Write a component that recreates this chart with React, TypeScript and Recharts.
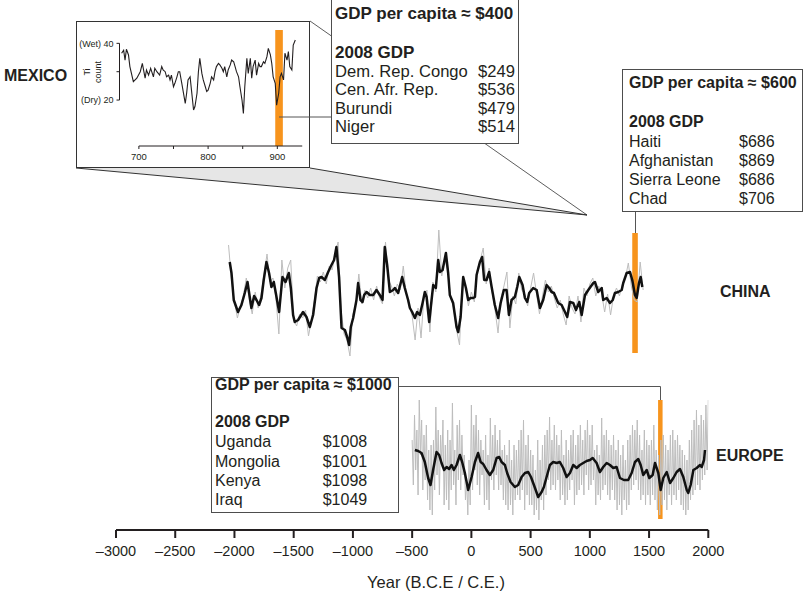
import React from 'react';
import {
  ComposedChart,
  LineChart,
  Line,
  XAxis,
  YAxis,
  ReferenceArea,
  ReferenceLine,
} from 'recharts';

const FONT = '"Liberation Sans", Arial, Helvetica, sans-serif';
const INK = '#231f20';
const ORANGE = '#f7941d';
const RAW_GRAY = '#bdbdbd';

// main time axis (B.C.E. negative)
const YEAR_TICKS = [-3000, -2500, -2000, -1500, -1000, -500, 0, 500, 1000, 1500, 2000];

// Mexico inset: Ti count
const MEXICO_YEARS = [
  675, 678, 680, 682, 685, 687, 692, 697, 702, 705, 709, 711, 714, 717, 721, 723, 726, 730, 733, 735,
  738, 740, 743, 745, 747, 750, 752, 755, 757, 759, 762, 767, 769, 771, 774, 776, 779, 781, 784, 786,
  788, 791, 793, 796, 798, 800, 803, 805, 808, 810, 812, 815, 817, 820, 822, 824, 827, 829, 832, 834,
  837, 839, 841, 844, 846, 849, 851, 853, 856, 858, 861, 863, 865, 868, 870, 873, 875, 877, 880, 882,
  885, 887, 890, 892, 894, 897, 899, 902, 904, 906, 909, 911, 914, 916, 918, 921, 923, 926,
];
const MEXICO_TI = [
  36.5, 37.6, 34.1, 37.9, 35.9, 31.8, 26.5, 27.7, 30, 32.9, 27.7, 30.6, 28.8, 31.2, 28.2, 31.2, 30, 28.8, 31.8, 30.6,
  30, 28.2, 28.8, 27.1, 28.8, 24.7, 25.9, 28.2, 30, 30, 25.9, 18.8, 22.4, 27.1, 28.2, 23.5, 16.5, 17.7, 22.4, 30,
  34.7, 29.4, 27.1, 24.7, 23, 23.5, 25.9, 28.2, 27.1, 30, 31.8, 32.9, 32.4, 31.2, 30, 31.8, 28.2, 30.6, 32.4, 34.1,
  33.5, 31.8, 30, 28.2, 24.7, 20, 15.3, 24.7, 34.7, 29.4, 34.7, 27.7, 31.8, 34.1, 28.8, 32.9, 31.8, 31.8, 33.5, 32.9,
  35.3, 38.2, 35.9, 32.9, 28.2, 25.9, 18.2, 22.4, 28.2, 29.4, 27.1, 36.5, 34.1, 37.1, 31.8, 30.6, 39.4, 41.2,
];
const MEXICO_TICKS = [700, 750, 800, 850, 900];
const MEXICO_LABELED = [700, 800, 900];
const TI_TICKS = [20, 30, 40];
const TI_TICK_LABELS = ['(Dry) 20', '', '(Wet) 40'];

// China: smoothed record (index units)
const CHINA_SMOOTH_YEARS = [
  -2040, -2025, -2006, -1970, -1941, -1913, -1890, -1871, -1857, -1834,
  -1814, -1792, -1772, -1753, -1730, -1708, -1688, -1668, -1651, -1623,
  -1595, -1569, -1541, -1524, -1505, -1491, -1463, -1421, -1392, -1364,
  -1336, -1307, -1285, -1265, -1237, -1209, -1181, -1159, -1139, -1117,
  -1096, -1068, -1049, -1032, -1018, -998, -970, -956, -936, -919,
  -905, -885, -857, -829, -801, -773, -750, -731, -711, -688,
  -660, -646, -618, -584, -562, -534, -519, -500, -477, -458,
  -435, -412, -393, -378, -356, -336, -322, -300, -280, -266,
  -243, -215, -196, -182, -154, -125, -111, -91, -69, -46,
  -27, -7, 15, 30, 44, 72, 91, 108, 128, 150,
  171, 198, 226, 247, 274, 297, 317, 339, 367, 387,
  404, 432, 452, 471, 488, 522, 551, 579, 606, 635,
  657, 677, 697, 733, 762, 790, 809, 832, 860, 883,
  911, 931, 959, 987, 1029, 1043, 1071, 1100, 1113, 1142,
  1170, 1193, 1212, 1240, 1269, 1282, 1311, 1339, 1358, 1381,
  1395, 1415, 1429, 1443,
];
const CHINA_SMOOTH = [
  38, 27, 0, -12, -5, 7, 18, 3, -8, 4,
  0, -5, 2, 20, 38, 27, 13, 18, 7, -12,
  23, 18, 27, 12, -15, -22, -20, -12, -17, -27,
  -15, 12, 22, 23, 20, 28, 35, 40, 53, 23,
  -28, -30, -37, -45, -27, -18, 0, 17, 0, -2,
  5, 8, 5, 5, 10, 5, 0, 53, 35, 8,
  10, 12, 7, 23, 12, 0, -8, -12, -18, -12,
  -15, -3, 8, 3, -22, 0, 15, 12, 40, 28,
  30, 47, 27, 5, -3, -27, -32, -17, 23, 12,
  0, 2, 2, 3, 25, 38, 43, 20, 20, 28,
  13, -5, -18, -3, 10, 10, -15, 0, 3, 13,
  23, 15, 2, -2, 7, 12, 10, -8, 0, 15,
  12, 8, 7, -3, -5, -12, -17, -2, -3, -10,
  -2, -15, 5, 10, 17, 18, 8, 12, 0, 2,
  -3, 0, 7, 8, 10, 17, 27, 28, 20, 5,
  2, 17, 23, 13,
];

// China: raw record, every 25 years from 2050 B.C.E.
const CHINA_RAW_START = -2050;
const CHINA_RAW_STEP = 25;
const CHINA_RAW = [
  55, 20, -2, -18, -6, 4, 22, 0, -14, 8, -8, 6,
  26, 46, 18, 22, 2, -34, 40, 12, 32, 40, -20, -26,
  -14, -18, -10, -36, -20, 0, 24, 18, 28, 16, 34, 30,
  46, 58, -10, -34, -40, -56, -14, -4, 26, -4, 10, 2,
  12, 0, 14, 2, -4, 58, 20, 14, 4, 16, 10, 34,
  6, -6, -16, -40, -8, -38, 4, 10, -32, 18, 8, 70,
  24, 40, 30, 2, -8, -30, -45, 22, 14, -6, 8, -2,
  30, 40, 52, 16, 32, 8, -10, -33, 2, 14, 28, -28,
  4, -4, 27, 10, 6, -6, 12, 27, 6, -14, 4, 20,
  8, 14, 2, -8, 0, -14, -25, 4, -8, -14, 4, -22,
  12, 4, 16, 22, 4, 14, 6, -12, 6, -15, 4, 12,
  4, 16, 22, 37, 14, 0, -2, 38, 10,
];

// Europe: smoothed record (index units)
const EUROPE_SMOOTH_YEARS = [
  -477, -449, -421, -393, -365, -345, -323, -294, -272, -252,
  -230, -209, -188, -167, -148, -125, -97, -78, -55, -27,
  2, 30, 57, 78, 100, 128, 156, 184, 213, 235,
  255, 283, 302, 331, 367, 395, 424, 452, 480, 503,
  528, 564, 593, 612, 635, 663, 691, 720, 747, 775,
  804, 832, 860, 889, 916, 944, 973, 1001, 1024, 1057,
  1085, 1113, 1142, 1170, 1198, 1226, 1254, 1288, 1324, 1353,
  1381, 1409, 1429, 1451, 1480, 1502, 1530, 1550, 1578, 1598,
  1620, 1649, 1677, 1705, 1733, 1761, 1789, 1818, 1831, 1851,
  1874, 1902, 1930, 1944, 1964, 1972,
];
const EUROPE_SMOOTH = [
  10, 9, 7, -2, -18, -25, -10, 8, 5, -3,
  -10, -7, -9, -5, -10, -5, 5, -2, -13, -30,
  -17, -2, 7, -2, -4, -10, -15, -10, 2, 3,
  -2, -5, -13, -22, -27, -25, -17, -13, -12, -17,
  -25, -37, -32, -27, -17, -5, -2, -3, -2, -8,
  -17, -13, -5, -8, -5, -3, -1, 0, 2, -3,
  -12, -7, -3, -5, -8, -7, -18, -20, -20, -13,
  -2, 1, -5, -15, -10, -18, -15, -3, -13, -30,
  -18, -12, -23, -18, -12, -9, -17, -30, -33, -25,
  -10, -8, -5, -7, 0, 10,
];

// Europe: raw record, every 10 years from 500 B.C.E.
const EUROPE_RAW_START = -500;
const EUROPE_RAW_STEP = 10;
const EUROPE_RAW = [
  20, -25, 45, -10, 30, -35, 60, 5, 40, -30,
  25, -20, 35, -40, 10, -50, 15, -55, 20, -30,
  53, -15, 30, -35, 25, -5, 40, -45, 15, -40,
  30, -50, 20, -30, 57, -25, 10, -45, 35, -20,
  40, -30, 25, -15, 5, -40, -20, -55, 0, -45,
  55, -30, 35, -10, 45, -25, 30, -35, 20, -15,
  10, -45, 25, -40, 5, -50, 42, -20, 25, -30,
  35, -15, 20, -30, 30, -25, 10, -40, 15, -45,
  5, -50, 20, -45, 0, -55, 15, -40, 10, -35,
  20, -40, 30, -30, 40, -50, 15, -35, 25, -45,
  10, -45, 5, -55, -10, -50, 20, -60, 0, -40,
  15, -50, 25, -35, 30, -20, 43, -30, 20, -25,
  35, -30, 25, -20, 15, -40, 30, -35, 5, -45,
  20, -40, 10, -30, 25, -20, 30, -45, 15, -35,
  25, -30, 35, -25, 20, -35, 30, -15, 40, -30,
  25, -25, 35, -20, 10, -45, 15, -35, 5, -40,
  42, -30, 25, -25, 30, -35, 20, -40, 15, -30,
  25, -40, 10, -50, 20, -45, 5, -55, 15, -40,
  0, -50, 20, -45, 25, -30, 35, -25, 30, -20,
  40, -30, 25, -40, 10, -35, 30, -45, 20, -35,
  15, -45, 20, -35, 35, -40, 10, -50, 5, -55,
  20, -45, 25, -40, 15, -50, 10, -35, 25, -45,
  30, -35, 20, -40, 25, -30, 15, -45, 10, -50,
  5, -55, 0, -50, 20, -40, 30, -35, 40, -30,
  50, -25, 35, -30, 45, -20, 40, -15, 55, -10,
  60,
];

// highlighted periods
const MEXICO_EVENT = [897, 908];
const CHINA_EVENT = [1358, 1405];
const EUROPE_EVENT = [1576, 1614];

// GDP boxes
const BOX400_TITLE = 'GDP per capita ≈ $400';
const BOX400_COUNTRIES = ['Dem. Rep. Congo', 'Cen. Afr. Rep.', 'Burundi', 'Niger'];
const BOX400_GDP = [249, 536, 479, 514];
const BOX600_TITLE = 'GDP per capita ≈ $600';
const BOX600_COUNTRIES = ['Haiti', 'Afghanistan', 'Sierra Leone', 'Chad'];
const BOX600_GDP = [686, 869, 686, 706];
const BOX1000_TITLE = 'GDP per capita ≈ $1000';
const BOX1000_COUNTRIES = ['Uganda', 'Mongolia', 'Kenya', 'Iraq'];
const BOX1000_GDP = [1008, 1001, 1098, 1049];

const mexicoData = MEXICO_YEARS.map((year, i) => ({ year, ti: MEXICO_TI[i] }));
const chinaSmooth = CHINA_SMOOTH_YEARS.map((year, i) => ({ year, v: CHINA_SMOOTH[i] }));
const chinaRaw = CHINA_RAW.map((v, i) => ({ year: CHINA_RAW_START + i * CHINA_RAW_STEP, v }));
const europeSmooth = EUROPE_SMOOTH_YEARS.map((year, i) => ({ year, v: EUROPE_SMOOTH[i] }));
const europeRaw = EUROPE_RAW.map((v, i) => ({ year: EUROPE_RAW_START + i * EUROPE_RAW_STEP, v }));

const fmtYear = (v: number) => (v < 0 ? `\u2013${-v}` : `${v}`);

// both main layers share this geometry so the smoothed lines sit on the same scales
const MAIN_W = 805;
const MAIN_H = 593;
const MAIN_MARGIN = { top: 0, right: 96.7, bottom: 0, left: 116 };
const X_AXIS_H = 63;

type BoxProps = {
  left: number;
  top: number;
  width: number;
  height: number;
  textLeft: number;
  valueAt: number;
  alignRight?: boolean;
  titleY: number;
  headY: number;
  rowY: number;
  rowStep: number;
  titleSize?: number;
  rowSize?: number;
  title: string;
  countries: string[];
  gdp: number[];
};

function GdpBox(p: BoxProps) {
  const lh = 20;
  const topOf = (cy: number) => cy - p.top - 1 - lh / 2;
  const x = p.textLeft - p.left - 1;
  const base: React.CSSProperties = { position: 'absolute', lineHeight: `${lh}px`, whiteSpace: 'nowrap' };
  const rowSize = p.rowSize ?? 16;
  const titleSize = p.titleSize ?? 16;
  return (
    <div
      style={{
        position: 'absolute',
        left: p.left,
        top: p.top,
        width: p.width,
        height: p.height,
        boxSizing: 'border-box',
        border: '1px solid #4d4d4d',
        background: '#fff',
      }}
    >
      <div style={{ ...base, left: x, top: topOf(p.titleY), fontWeight: 700, fontSize: titleSize }}>{p.title}</div>
      <div style={{ ...base, left: x, top: topOf(p.headY), fontWeight: 700, fontSize: titleSize }}>2008 GDP</div>
      {p.countries.map((c, i) => {
        const t = topOf(p.rowY + i * p.rowStep);
        const valStyle: React.CSSProperties = p.alignRight
          ? { ...base, top: t, fontSize: rowSize, right: p.left + p.width - 1 - p.valueAt }
          : { ...base, top: t, fontSize: rowSize, left: p.valueAt - p.left - 1 };
        return (
          <React.Fragment key={c}>
            <div style={{ ...base, left: x, top: t, fontSize: rowSize }}>{c}</div>
            <div style={valStyle}>${p.gdp[i]}</div>
          </React.Fragment>
        );
      })}
    </div>
  );
}

function RegionLabel({ text, left, cy }: { text: string; left: number; cy: number }) {
  return (
    <div
      style={{
        position: 'absolute',
        left,
        top: cy - 10,
        lineHeight: '20px',
        fontSize: 16,
        fontWeight: 700,
        color: INK,
      }}
    >
      {text}
    </div>
  );
}

function TiTick(props: any) {
  const { x, y, payload } = props;
  const label = TI_TICK_LABELS[TI_TICKS.indexOf(payload.value)] ?? '';
  return (
    <text x={x} y={y} dy={3.2} textAnchor="end" fill={INK} fontSize={9} fontFamily={FONT}>
      {label}
    </text>
  );
}

function MexicoInset() {
  return (
    <>
      <div
        style={{
          position: 'absolute',
          left: 76,
          top: 21,
          width: 234,
          height: 147,
          boxSizing: 'border-box',
          border: '1.5px solid #333',
          background: '#fff',
        }}
      />
      <div style={{ position: 'absolute', left: 76, top: 21 }}>
        <LineChart width={234} height={147} data={mexicoData} margin={{ top: 9, right: 5, bottom: 0, left: 0 }}>
          <XAxis
            dataKey="year"
            type="number"
            domain={[672, 940]}
            allowDataOverflow
            ticks={MEXICO_TICKS}
            interval={0}
            height={22}
            axisLine={false}
            tickLine={{ stroke: INK }}
            tickSize={3}
            tickMargin={4}
            tick={{ fill: INK, fontSize: 9.5, fontFamily: FONT }}
            tickFormatter={(v: number) => (MEXICO_LABELED.includes(v) ? String(v) : '')}
          />
          <YAxis
            type="number"
            domain={[3.8, 44.7]}
            allowDataOverflow
            ticks={TI_TICKS}
            interval={0}
            width={43.5}
            axisLine={false}
            tickLine={{ stroke: INK }}
            tickSize={3}
            tickMargin={3}
            tick={TiTick}
          />
          <ReferenceLine segment={[{ x: 700, y: 3.8 }, { x: 936, y: 3.8 }]} stroke={INK} strokeWidth={1} ifOverflow="visible" />
          <ReferenceLine segment={[{ x: 672, y: 20 }, { x: 672, y: 40 }]} stroke={INK} strokeWidth={1} ifOverflow="visible" />
          <ReferenceArea
            x1={MEXICO_EVENT[0]}
            x2={MEXICO_EVENT[1]}
            y1={3.8}
            y2={44.7}
            fill={ORANGE}
            fillOpacity={1}
            stroke="none"
            ifOverflow="visible"
          />
        </LineChart>
      </div>
      {/* second layer keeps the Ti trace above the orange band */}
      <div style={{ position: 'absolute', left: 76, top: 21 }}>
        <LineChart width={234} height={147} data={mexicoData} margin={{ top: 9, right: 5, bottom: 22, left: 43.5 }}>
          <XAxis dataKey="year" type="number" domain={[672, 940]} allowDataOverflow hide />
          <YAxis type="number" domain={[3.8, 44.7]} allowDataOverflow hide />
          <Line
            dataKey="ti"
            type="linear"
            stroke={INK}
            strokeWidth={1.1}
            dot={false}
            isAnimationActive={false}
          />
        </LineChart>
      </div>
      <div
        style={{
          position: 'absolute',
          left: 92.5 - 30,
          top: 72 - 11,
          width: 60,
          height: 22,
          transform: 'rotate(-90deg)',
          textAlign: 'center',
          fontSize: 9,
          lineHeight: '11px',
          color: INK,
        }}
      >
        Ti
        <br />
        count
      </div>
    </>
  );
}

export default function App() {
  return (
    <div
      style={{
        position: 'absolute',
        left: 0,
        top: 0,
        width: 805,
        height: 593,
        overflow: 'hidden',
        background: '#fff',
        fontFamily: FONT,
        fontSize: 16,
        color: INK,
      }}
    >
      {/* raw records, highlighted periods and the year axis */}
      <div style={{ position: 'absolute', left: 0, top: 0 }}>
        <ComposedChart width={MAIN_W} height={MAIN_H} margin={MAIN_MARGIN}>
          <XAxis
            dataKey="year"
            type="number"
            domain={[-3000, 2000]}
            allowDataOverflow
            ticks={YEAR_TICKS}
            interval={0}
            height={X_AXIS_H}
            axisLine={{ stroke: INK, strokeWidth: 2 }}
            tickLine={{ stroke: INK, strokeWidth: 2 }}
            tickSize={8}
            tickMargin={8}
            tick={{ fill: INK, fontSize: 14.5, fontFamily: FONT }}
            tickFormatter={fmtYear}
          />
          <YAxis yAxisId="china" type="number" hide domain={[-230, 300]} allowDataOverflow />
          <YAxis yAxisId="europe" type="number" hide domain={[-70, 460]} allowDataOverflow />
          <Line
            yAxisId="china"
            data={chinaRaw}
            dataKey="v"
            type="linear"
            stroke={RAW_GRAY}
            strokeWidth={1}
            dot={false}
            isAnimationActive={false}
          />
          <Line
            yAxisId="europe"
            data={europeRaw}
            dataKey="v"
            type="linear"
            stroke={RAW_GRAY}
            strokeWidth={1}
            dot={false}
            isAnimationActive={false}
          />
          <ReferenceArea
            yAxisId="china"
            x1={CHINA_EVENT[0]}
            x2={CHINA_EVENT[1]}
            y1={-53}
            y2={67}
            fill={ORANGE}
            fillOpacity={1}
            stroke="none"
            ifOverflow="visible"
          />
          <ReferenceArea
            yAxisId="europe"
            x1={EUROPE_EVENT[0]}
            x2={EUROPE_EVENT[1]}
            y1={-59}
            y2={60}
            fill={ORANGE}
            fillOpacity={1}
            stroke="none"
            ifOverflow="visible"
          />
        </ComposedChart>
      </div>

      {/* smoothed records on top */}
      <div style={{ position: 'absolute', left: 0, top: 0 }}>
        <ComposedChart width={MAIN_W} height={MAIN_H} margin={{ ...MAIN_MARGIN, bottom: X_AXIS_H }}>
          <XAxis dataKey="year" type="number" domain={[-3000, 2000]} allowDataOverflow hide />
          <YAxis yAxisId="china" type="number" hide domain={[-230, 300]} allowDataOverflow />
          <YAxis yAxisId="europe" type="number" hide domain={[-70, 460]} allowDataOverflow />
          <Line
            yAxisId="china"
            data={chinaSmooth}
            dataKey="v"
            type="linear"
            stroke="#111"
            strokeWidth={2.5}
            strokeLinejoin="round"
            dot={false}
            isAnimationActive={false}
          />
          <Line
            yAxisId="europe"
            data={europeSmooth}
            dataKey="v"
            type="linear"
            stroke="#111"
            strokeWidth={2.5}
            strokeLinejoin="round"
            dot={false}
            isAnimationActive={false}
          />
        </ComposedChart>
      </div>

      <div
        style={{
          position: 'absolute',
          left: 336,
          top: 571.7,
          width: 200,
          textAlign: 'center',
          fontSize: 16.5,
          lineHeight: '20px',
        }}
      >
        Year (B.C.E / C.E.)
      </div>

      <MexicoInset />

      <svg width={805} height={593} style={{ position: 'absolute', left: 0, top: 0, pointerEvents: 'none' }}>
        <polygon points="76,168 310,168 587,215" fill="#e6e6e6" />
        <line x1={76} y1={168} x2={587} y2={215} stroke="#333" strokeWidth={1} />
        <line x1={310} y1={168} x2={587} y2={215} stroke="#333" strokeWidth={1} />
        <line x1={310} y1={21} x2={587} y2={215} stroke="#333" strokeWidth={0.8} />
        <line x1={279} y1={117} x2={331} y2={117} stroke="#555" strokeWidth={1} />
        <line x1={635.5} y1={212} x2={635.5} y2={233} stroke="#555" strokeWidth={1} />
        <polyline points="399,386.5 660.5,386.5 660.5,400" fill="none" stroke="#555" strokeWidth={1} />
      </svg>

      <GdpBox
        left={331}
        top={-1}
        width={188}
        height={145}
        textLeft={335}
        valueAt={515}
        alignRight
        titleY={14}
        headY={52.7}
        rowY={72}
        rowStep={18.3}
        titleSize={17}
        rowSize={16.6}
        title={BOX400_TITLE}
        countries={BOX400_COUNTRIES}
        gdp={BOX400_GDP}
      />
      <GdpBox
        left={622}
        top={69}
        width={181}
        height={143}
        textLeft={629}
        valueAt={739}
        titleY={82.7}
        headY={121.7}
        rowY={141.7}
        rowStep={19.2}
        title={BOX600_TITLE}
        countries={BOX600_COUNTRIES}
        gdp={BOX600_GDP}
      />
      <GdpBox
        left={211}
        top={377}
        width={188}
        height={136}
        textLeft={215}
        valueAt={322.7}
        titleY={385}
        headY={422.3}
        rowY={442.3}
        rowStep={19.2}
        title={BOX1000_TITLE}
        countries={BOX1000_COUNTRIES}
        gdp={BOX1000_GDP}
      />

      <RegionLabel text="MEXICO" left={4} cy={76} />
      <RegionLabel text="CHINA" left={720} cy={291.7} />
      <RegionLabel text="EUROPE" left={716} cy={456} />
    </div>
  );
}
